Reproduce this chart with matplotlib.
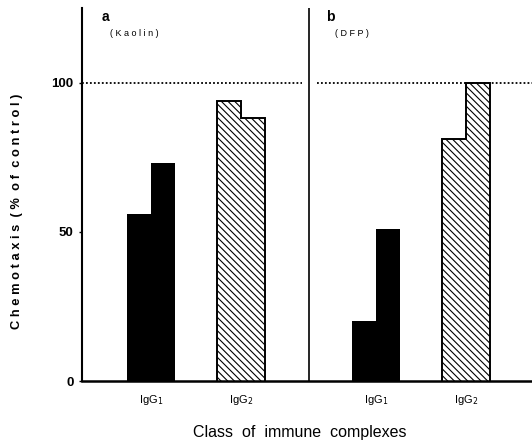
import numpy as np
import matplotlib
matplotlib.use("Agg")
import matplotlib.pyplot as plt

plt.rcParams['font.family'] = ['Liberation Sans', 'DejaVu Sans']
plt.rcParams['hatch.linewidth'] = 0.8

# chemotaxis (% of control), two bars per immune complex class
panels = ['a', 'b']
treatments = ['( K a o l i n )', '( D F P )']
classes = ['IgG$_1$', 'IgG$_2$']
igg1_vals = [[56, 73], [20, 51]]
igg2_vals = [[94, 88], [81, 100]]
yticks = [0, 50, 100]

fig = plt.figure(figsize=(5.32, 4.45), dpi=100)
ax = fig.add_axes([82/532, 64/445, 450/532, 373/445])

group_pos = [[0.0, 1.0], [2.5, 3.5]]
bw = 0.265
for p in range(2):
    c1, c2 = group_pos[p]
    ax.bar([c1 - bw/2, c1 + bw/2], igg1_vals[p], width=bw, color='black',
           edgecolor='black', linewidth=0)
    ax.bar([c2 - bw/2, c2 + bw/2], igg2_vals[p], width=bw, color='white',
           edgecolor='black', linewidth=0, hatch='\\\\\\\\\\')
    # outline of the hatched pair as one stepped shape
    ax.stairs(igg2_vals[p], [c2 - bw, c2, c2 + bw], baseline=0,
              color='black', linewidth=1.4)
    for i, cl in enumerate(classes):
        ax.text(group_pos[p][i], -4, cl, ha='center', va='top', fontsize=8)
    ax.text(c1 - 0.55, 122, panels[p], fontsize=10, fontweight='bold',
            ha='left', va='center')
    ax.text(c1 - 0.46, 116.5, treatments[p], fontsize=6.5, ha='left', va='center')

ax.plot([-0.767, 1.68], [100, 100], color='black', linestyle=(0, (1, 1.2)), linewidth=1.3)
ax.plot([1.84, 4.233], [100, 100], color='black', linestyle=(0, (1, 1.2)), linewidth=1.3)
ax.axvline(1.756, ymin=0, ymax=1, color='black', linewidth=1.2)

ax.set_xlim(-0.767, 4.233)
ax.set_ylim(0, 125)
ax.set_yticks(yticks)
ax.set_yticklabels([str(t) for t in yticks], fontsize=9.5, fontweight='bold')
ax.tick_params(axis='y', length=2, width=1, pad=4)
ax.set_xticks([])
for s in ['top', 'right']:
    ax.spines[s].set_visible(False)
ax.spines['left'].set_linewidth(1.5)
ax.spines['bottom'].set_linewidth(1.8)

fig.text(17/532, 1 - 211/445, 'C h e m o t a x i s  ( %  o f  c o n t r o l )',
         fontsize=9.3, fontweight='bold', rotation=90, ha='center', va='center')
fig.text(300/532, 1 - 433/445, 'Class  of  immune  complexes', fontsize=11.5,
         ha='center', va='center')

fig.savefig('out.png', dpi=100)
